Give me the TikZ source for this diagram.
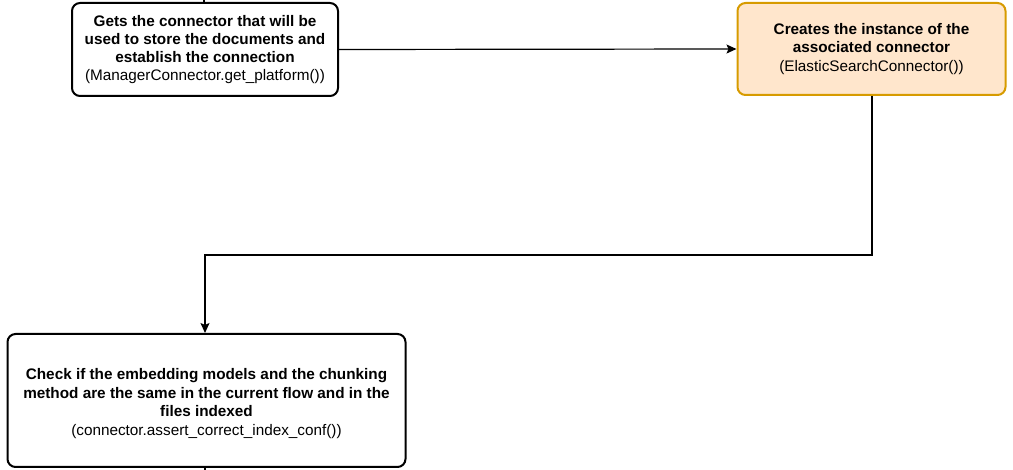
\documentclass[tikz,border=0pt]{standalone}
\usepackage{fontspec}
\setmainfont{Liberation Sans}
\usetikzlibrary{arrows.meta}
\definecolor{orfill}{HTML}{FFE6CC}
\definecolor{ordraw}{HTML}{D79B00}
\tikzset{
  box/.style={draw=black, line width=2pt, rounded corners=8pt, align=center, inner sep=0pt,
    font=\fontsize{15.3}{18.2}\selectfont},
  obox/.style={box, draw=ordraw, fill=orfill},
  txt/.style={align=center, inner sep=0pt, font=\fontsize{15.3}{18.4}\selectfont},
  conn/.style={line width=1.2pt, draw=black},
  arr/.style={conn, -{Stealth[length=10pt,width=9pt,inset=2pt]}},
}
\newcommand{\bt}[1]{\textbf{#1}}
\begin{document}
\begin{tikzpicture}[x=1pt,y=-1pt]
\useasboundingbox (0,0) rectangle (1013,470);
\node[box, minimum width=266pt, minimum height=93pt] (a) at (205,49.5)
  {\bt{Gets the connector that will be}\\\bt{used to store the documents and}\\\bt{establish the connection}\\(ManagerConnector.get\_platform())};
\node[obox, minimum width=268pt, minimum height=92pt] (b) at (871.5,49)
  {\bt{Creates the instance of the}\\\bt{associated connector}\\(ElasticSearchConnector())};
\node[box, minimum width=398pt, minimum height=133pt] (c) at (206.5,400.5) {};
\node[txt] (ct) at (206.5,403.5)
  {\bt{Check if the embedding models and the chunking}\\\bt{method are the same in the current flow and in the}\\\bt{files indexed}\\(connector.assert\_correct\_index\_conf())};
\coordinate (topin) at (204,0);
\coordinate (botout) at (205,470);
\draw[conn] (topin) -- (topin |- a.north);
\draw[conn] (c.south -| botout) -- (botout);
\draw[arr] (a.east) -- (b.west);
\draw[arr] (b.south -| 872,0) |- (205,255) -- (205,0 |- c.north);
\end{tikzpicture}
\end{document}
